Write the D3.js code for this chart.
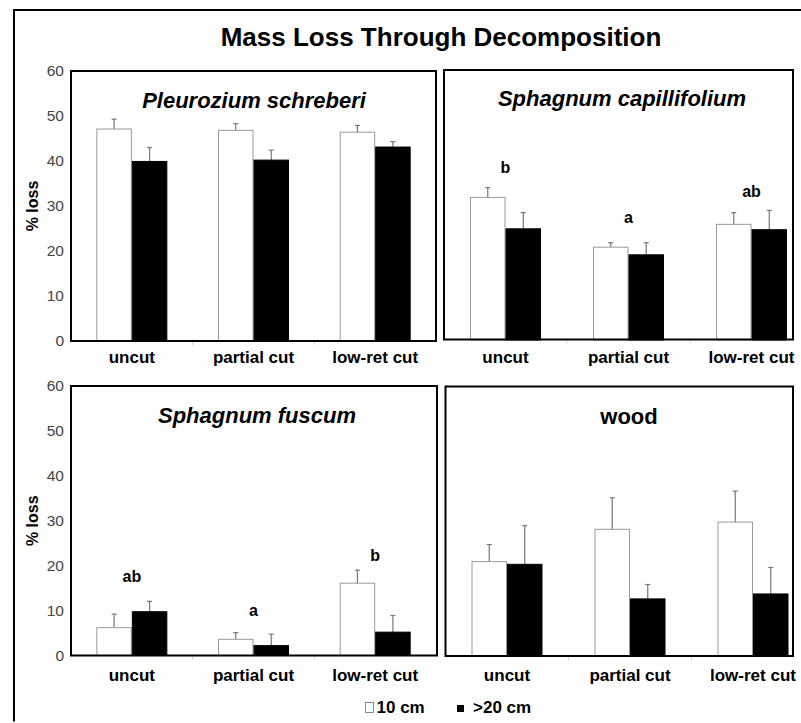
<!DOCTYPE html>
<html>
<head>
<meta charset="utf-8">
<script src="https://cdn.jsdelivr.net/npm/d3@7"></script>
<style>
  html, body { margin: 0; padding: 0; background: #fff; overflow: hidden; }
  svg { display: block; }
  svg text { font-family: "Liberation Sans", Arial, sans-serif; }
</style>
</head>
<body>
<div id="chart"></div>
<script>
// categories and series
var categories = ["uncut", "partial cut", "low-ret cut"];
var series = ["10 cm", ">20 cm"];
var yTicks = [0, 10, 20, 30, 40, 50, 60];

// Pleurozium schreberi
var pleuro10 = [47.1, 46.8, 46.4];
var pleuro10Err = [2.2, 1.5, 1.5];
var pleuro20 = [39.9, 40.2, 43.1];
var pleuro20Err = [3.1, 2.2, 1.2];

// Sphagnum capillifolium
var capill10 = [31.8, 20.7, 25.8];
var capill10Err = [2.2, 1.0, 2.6];
var capill20 = [24.8, 19.0, 24.6];
var capill20Err = [3.6, 2.7, 4.3];
var capillLetters = ["b", "a", "ab"];
var capillLetterAt = [37.3, 26.1, 31.9];

// Sphagnum fuscum
var fuscum10 = [6.2, 3.6, 16.1];
var fuscum10Err = [3.0, 1.5, 2.9];
var fuscum20 = [9.75, 2.2, 5.2];
var fuscum20Err = [2.3, 2.55, 3.7];
var fuscumLetters = ["ab", "a", "b"];
var fuscumLetterAt = [16.4, 8.9, 21.0];

// wood
var wood10 = [20.9, 28.1, 29.7];
var wood10Err = [3.8, 7.0, 6.9];
var wood20 = [20.3, 12.6, 13.7];
var wood20Err = [8.6, 3.2, 5.9];

var width = 801, height = 723;
var barW = 35.5;

var svg = d3.select("#chart").append("svg")
    .attr("width", width)
    .attr("height", height);

// outer frame: only left and top edges show in the picture
svg.append("path")
    .attr("d", "M14,721.5 L14,10 L801,10")
    .attr("fill", "none").attr("stroke", "#000").attr("stroke-width", 2);

svg.append("text")
    .attr("x", 441).attr("y", 46)
    .attr("text-anchor", "middle")
    .attr("font-size", 26).attr("font-weight", "bold")
    .text("Mass Loss Through Decomposition");

var panels = [
    { title: "Pleurozium schreberi", italic: true, v10: pleuro10, e10: pleuro10Err, v20: pleuro20, e20: pleuro20Err,
      frame: [71, 436, 71, 341], band: [71, 436], y: [341, 71], yAxis: true, labelY: 362.5, titleX: 254, titleY: 108 },
    { title: "Sphagnum capillifolium", italic: true, v10: capill10, e10: capill10Err, v20: capill20, e20: capill20Err,
      letters: capillLetters, letterAt: capillLetterAt,
      frame: [444, 793, 70, 339.5], band: [444, 813], y: [340, 71], yAxis: false, labelY: 362.5, titleX: 622, titleY: 106 },
    { title: "Sphagnum fuscum", italic: true, v10: fuscum10, e10: fuscum10Err, v20: fuscum20, e20: fuscum20Err,
      letters: fuscumLetters, letterAt: fuscumLetterAt,
      frame: [71, 437, 386, 655.5], band: [71, 436], y: [655.5, 386], yAxis: true, labelY: 681, titleX: 257, titleY: 423 },
    { title: "wood", italic: false, v10: wood10, e10: wood10Err, v20: wood20, e20: wood20Err,
      frame: [445.5, 793, 386.5, 656], band: [445.5, 814.5], y: [655.5, 386], yAxis: false, labelY: 681, titleX: 629, titleY: 424 }
];

panels.forEach(function(p) {
    var g = svg.append("g");
    var pad = 1 - (2 * barW) / ((p.band[1] - p.band[0]) / 3);

    var x0 = d3.scaleBand()
        .domain(categories)
        .range(p.band)
        .paddingInner(pad)
        .paddingOuter(pad / 2);

    var x1 = d3.scaleBand()
        .domain(series)
        .range([0, x0.bandwidth()]);

    var y = d3.scaleLinear()
        .domain([0, 60])
        .range(p.y);

    var flat = [];
    categories.forEach(function(c, i) {
        flat.push({ cat: c, s: series[0], v: p.v10[i], e: p.e10[i] });
        flat.push({ cat: c, s: series[1], v: p.v20[i], e: p.e20[i] });
    });

    function cx(d) { return x0(d.cat) + x1(d.s) + x1.bandwidth() / 2; }

    // error bars (upper half only)
    var err = g.selectAll(".err")
        .data(flat)
        .enter().append("g");
    err.append("line")
        .attr("x1", cx).attr("x2", cx)
        .attr("y1", function(d) { return y(d.v); })
        .attr("y2", function(d) { return y(d.v + d.e); })
        .attr("stroke", "#777").attr("stroke-width", 1.2);
    err.append("line")
        .attr("x1", function(d) { return cx(d) - 2.5; })
        .attr("x2", function(d) { return cx(d) + 2.5; })
        .attr("y1", function(d) { return y(d.v + d.e); })
        .attr("y2", function(d) { return y(d.v + d.e); })
        .attr("stroke", "#777").attr("stroke-width", 1.2);

    g.selectAll(".bar")
        .data(flat)
        .enter().append("rect")
        .attr("x", function(d) { return x0(d.cat) + x1(d.s) + 0.5; })
        .attr("y", function(d) { return y(d.v); })
        .attr("width", x1.bandwidth() - 1)
        .attr("height", function(d) { return y(0) - y(d.v); })
        .attr("fill", function(d) { return d.s === series[0] ? "#fff" : "#000"; })
        .attr("stroke", function(d) { return d.s === series[0] ? "#999" : "#000"; })
        .attr("stroke-width", 1);

    // faint x ticks between groups
    var step = x0.step();
    g.selectAll(".xt")
        .data([1, 2])
        .enter().append("line")
        .attr("x1", function(d) { return p.band[0] + d * step; })
        .attr("x2", function(d) { return p.band[0] + d * step; })
        .attr("y1", p.frame[3] + 1)
        .attr("y2", p.frame[3] + 4)
        .attr("stroke", "#ccc").attr("stroke-width", 1);

    // frame
    g.append("rect")
        .attr("x", p.frame[0]).attr("y", p.frame[2])
        .attr("width", p.frame[1] - p.frame[0])
        .attr("height", p.frame[3] - p.frame[2])
        .attr("fill", "none").attr("stroke", "#000").attr("stroke-width", 2);

    // category labels
    g.selectAll(".xl")
        .data(categories)
        .enter().append("text")
        .attr("x", function(d) { return x0(d) + x0.bandwidth() / 2; })
        .attr("y", p.labelY)
        .attr("text-anchor", "middle")
        .attr("font-size", 17).attr("font-weight", "bold")
        .text(function(d) { return d; });

    // panel title
    g.append("text")
        .attr("x", p.titleX).attr("y", p.titleY)
        .attr("text-anchor", "middle")
        .attr("font-size", 22).attr("font-weight", "bold")
        .attr("font-style", p.italic ? "italic" : "normal")
        .text(p.title);

    // significance letters
    if (p.letters) {
        g.selectAll(".lt")
            .data(p.letters)
            .enter().append("text")
            .attr("x", function(d, i) { return x0(categories[i]) + x0.bandwidth() / 2; })
            .attr("y", function(d, i) { return y(p.letterAt[i]); })
            .attr("text-anchor", "middle")
            .attr("font-size", 16).attr("font-weight", "bold")
            .text(function(d) { return d; });
    }

    if (p.yAxis) {
        var ax = g.append("g")
            .attr("transform", "translate(" + p.frame[0] + ",0)")
            .call(d3.axisLeft(y).tickValues(yTicks).tickSize(0).tickPadding(7));
        ax.select(".domain").remove();
        ax.selectAll("text")
            .attr("font-size", 15.5)
            .attr("font-family", "'Liberation Sans', Arial, sans-serif")
            .attr("fill", "#444");

        g.append("text")
            .attr("transform", "translate(38," + ((p.y[0] + p.y[1]) / 2) + ") rotate(-90)")
            .attr("text-anchor", "middle")
            .attr("font-size", 16).attr("font-weight", "bold")
            .text("% loss");
    }
});

// legend
var legend = svg.append("g");
legend.append("rect")
    .attr("x", 365.5).attr("y", 702.5)
    .attr("width", 8).attr("height", 10)
    .attr("fill", "#fff").attr("stroke", "#888").attr("stroke-width", 1);
legend.append("text")
    .attr("x", 376.5).attr("y", 713)
    .attr("font-size", 17).attr("font-weight", "bold")
    .text(series[0]);
legend.append("rect")
    .attr("x", 457).attr("y", 705)
    .attr("width", 7).attr("height", 7)
    .attr("fill", "#000");
legend.append("text")
    .attr("x", 473).attr("y", 713)
    .attr("font-size", 17).attr("font-weight", "bold")
    .text(series[1]);
</script>
</body>
</html>
